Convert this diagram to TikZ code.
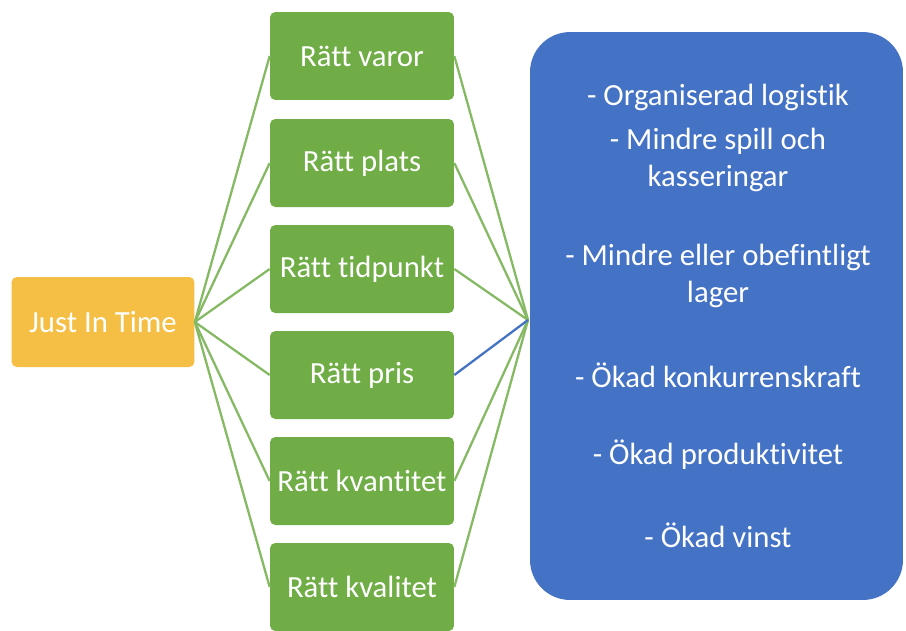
\documentclass[tikz,border=0pt]{standalone}
\usepackage{fontspec}
\setmainfont{Carlito}[Ligatures={NoCommon}]
\usepackage{tikz}
\usetikzlibrary{positioning,calc}
\usepackage{xcolor}

\definecolor{jitorange}{HTML}{F5BF45}
\definecolor{stepgreen}{HTML}{70AD47}
\definecolor{gainblue}{HTML}{4472C4}

\begin{document}
\begin{tikzpicture}[
    x=0.02cm, y=-0.02cm,
    every node/.style={
        text=white,
        font=\fontsize{17.5}{21}\selectfont
    },
    startbox/.style={
        rectangle,
        rounded corners=3pt,
        fill=jitorange,
        minimum width=3.66cm,
        minimum height=1.8cm
    },
    rightbox/.style={
        rectangle,
        rounded corners=3pt,
        fill=stepgreen,
        minimum width=3.68cm,
        minimum height=1.76cm
    },
    gainbox/.style={
        rectangle,
        rounded corners=0.8cm,
        fill=gainblue,
        minimum width=7.46cm,
        minimum height=11.36cm
    },
    link/.style={draw=stepgreen!85!white, line width=1.3pt}
]
\useasboundingbox (0,0) rectangle (906,630);

% -------- Boxes --------
\node[startbox] (jit) at (103,322) {Just In Time};

\node[rightbox] (varor)     at (362,56)  {Rätt varor};
\node[rightbox] (plats)     at (362,163) {Rätt plats};
\node[rightbox] (tidpunkt)  at (362,269) {Rätt tidpunkt};
\node[rightbox] (pris)      at (362,375) {Rätt pris};
\node[rightbox] (kvantitet) at (362,481) {Rätt kvantitet};
\node[rightbox] (kvalitet)  at (362,587) {Rätt kvalitet};

\node[gainbox] (effekter) at (716.5,316) {};
\coordinate (hub) at (528,320);

% -------- Effects --------
\node (e1) at (718,97)  {- Organiserad logistik};
\node[align=center] (e2) at (718,160) {- Mindre spill och\\kasseringar};
\node[align=center] (e3) at (718,276) {- Mindre eller obefintligt\\lager};
\node (e4) at (718,375) {- Ökad konkurrenskraft};
\node (e5) at (718,455) {- Ökad produktivitet};
\node (e6) at (718,535) {- Ökad vinst};

% -------- Links --------
\foreach \s in {varor,plats,tidpunkt,pris,kvantitet,kvalitet}
    \draw[link] (jit.east) -- (\s.west);

\foreach \s in {varor,plats,tidpunkt,kvantitet,kvalitet}
    \draw[link] (\s.east) -- (hub);
\draw[draw=gainblue, line width=1.3pt] (pris.east) -- (hub);

\end{tikzpicture}
\end{document}
